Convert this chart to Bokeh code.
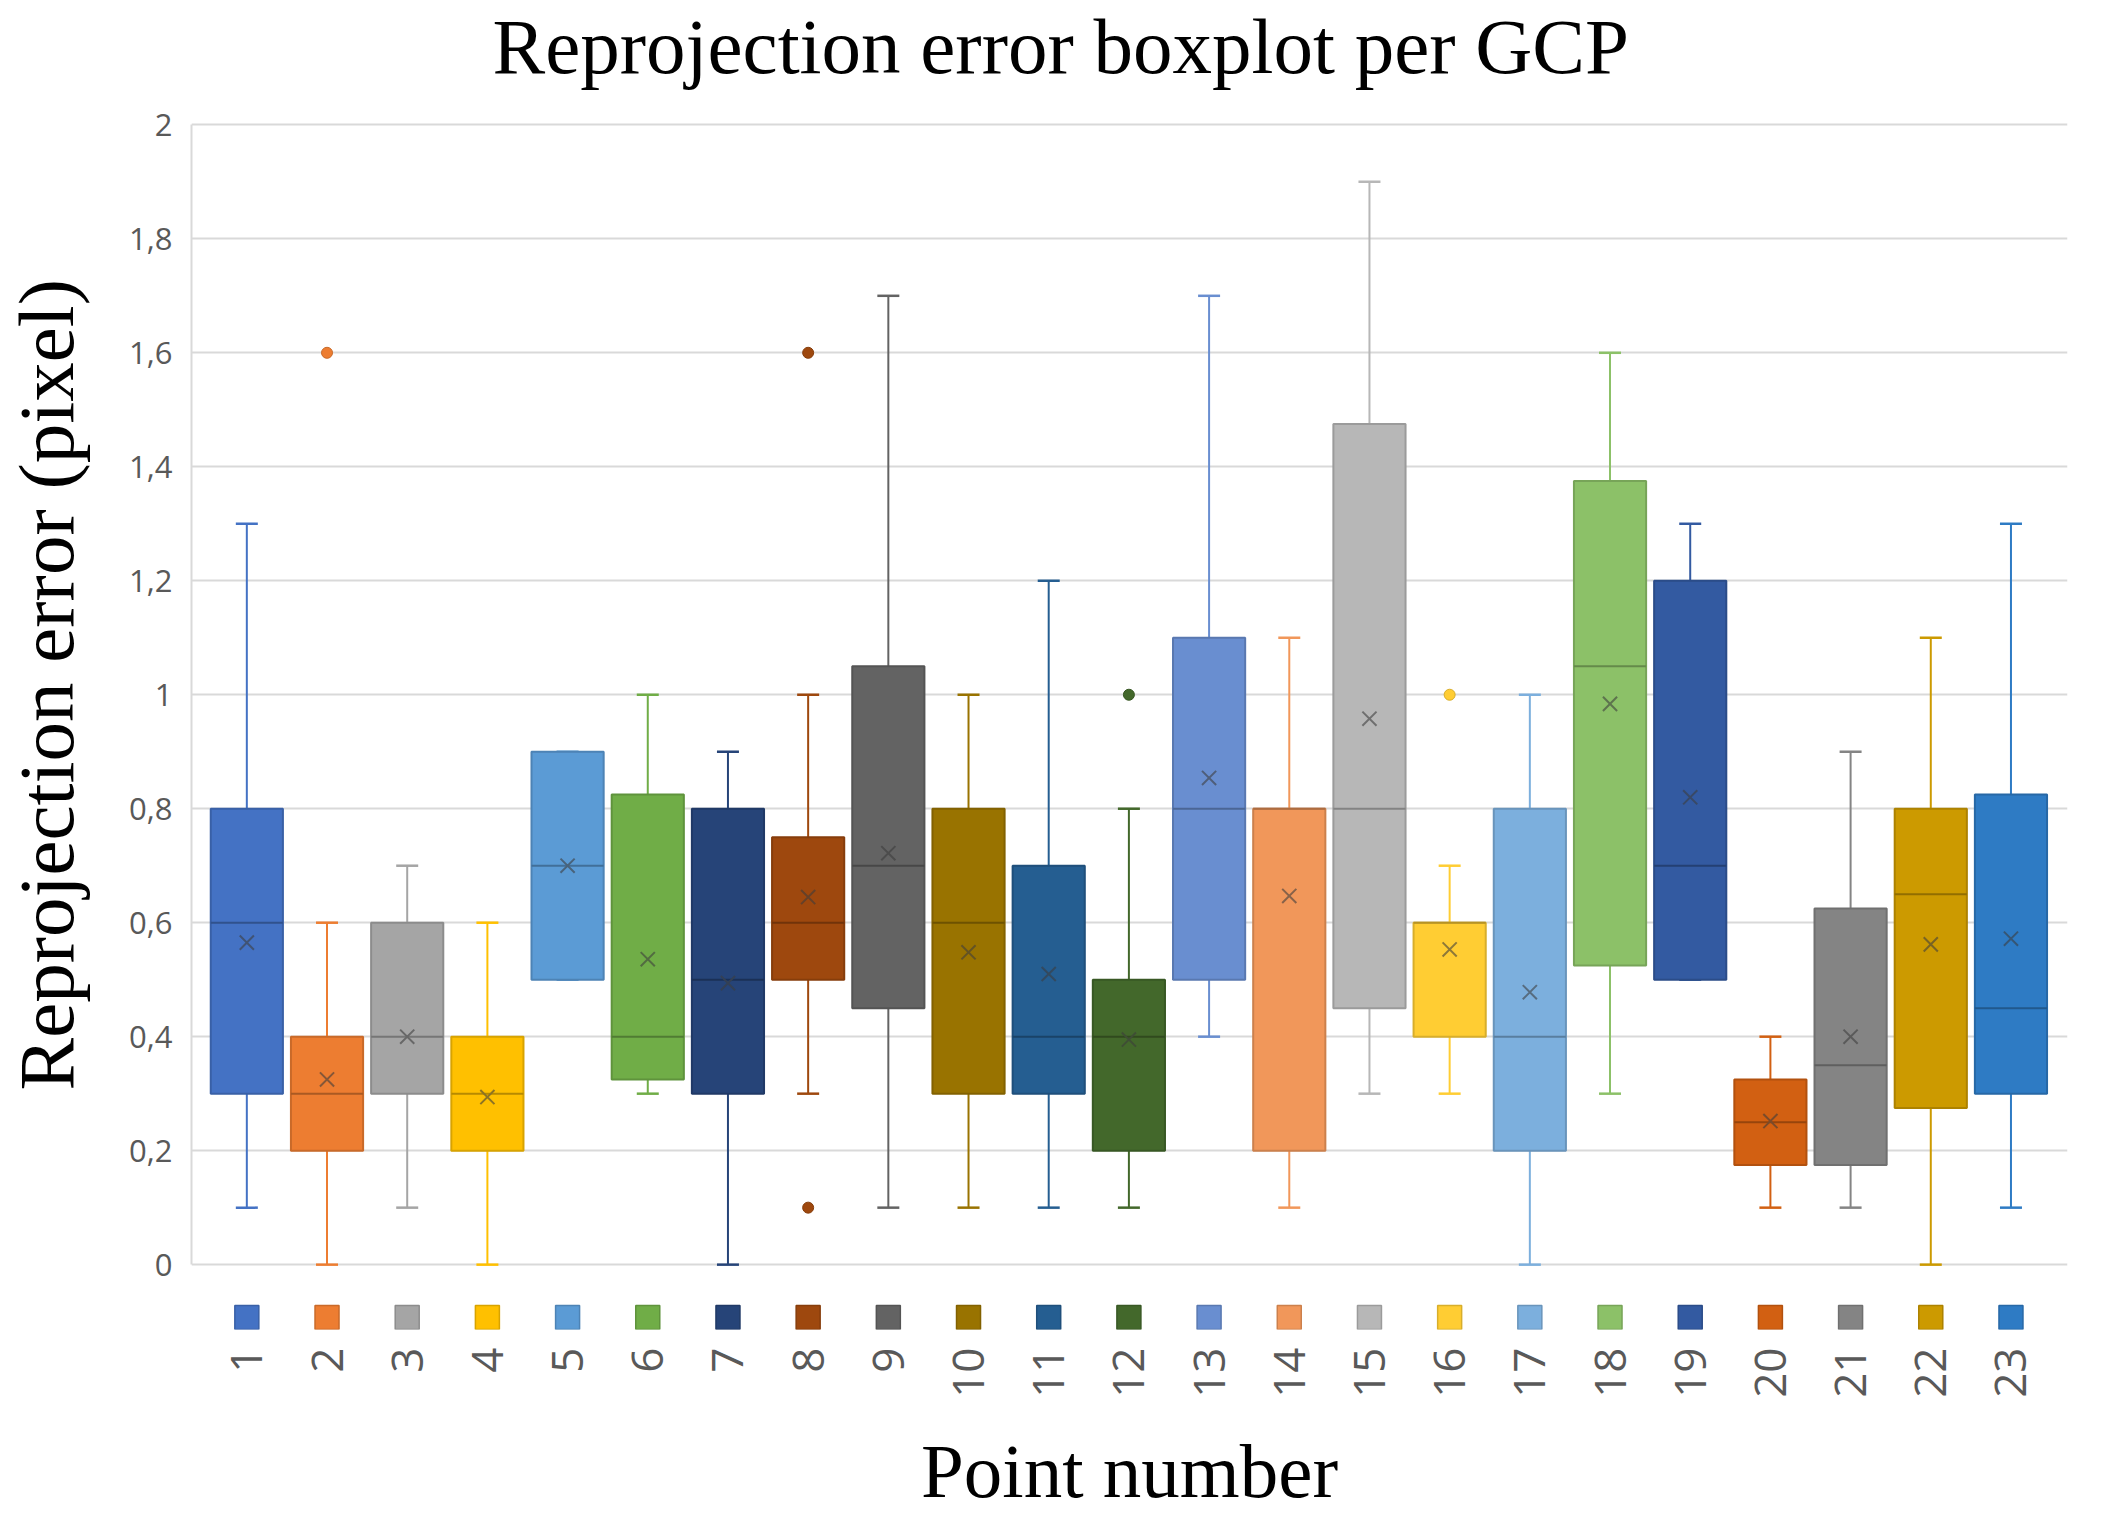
import math
from bokeh.plotting import figure
from bokeh.models import FixedTicker, CustomJSTickFormatter, Range1d
from bokeh.core.properties import value
from bokeh.embed import file_html
from bokeh.resources import INLINE

# ---------------- data ----------------
points = [str(i) for i in range(1, 24)]
x_pos = list(range(1, 24))
whisker_low = [0.1, 0.0, 0.1, 0.0, 0.5, 0.3, 0.0, 0.3, 0.1, 0.1, 0.1, 0.1,
               0.4, 0.1, 0.3, 0.3, 0.0, 0.3, 0.5, 0.1, 0.1, 0.0, 0.1]
q1 = [0.3, 0.2, 0.3, 0.2, 0.5, 0.325, 0.3, 0.5, 0.45, 0.3, 0.3, 0.2,
      0.5, 0.2, 0.45, 0.4, 0.2, 0.525, 0.5, 0.175, 0.175, 0.275, 0.3]
median = [0.6, 0.3, 0.4, 0.3, 0.7, 0.4, 0.5, 0.6, 0.7, 0.6, 0.4, 0.4,
          0.8, 0.8, 0.8, 0.6, 0.4, 1.05, 0.7, 0.25, 0.35, 0.65, 0.45]
q3 = [0.8, 0.4, 0.6, 0.4, 0.9, 0.825, 0.8, 0.75, 1.05, 0.8, 0.7, 0.5,
      1.1, 0.8, 1.475, 0.6, 0.8, 1.375, 1.2, 0.325, 0.625, 0.8, 0.825]
whisker_high = [1.3, 0.6, 0.7, 0.6, 0.9, 1.0, 0.9, 1.0, 1.7, 1.0, 1.2, 0.8,
                1.7, 1.1, 1.9, 0.7, 1.0, 1.6, 1.3, 0.4, 0.9, 1.1, 1.3]
mean = [0.565, 0.325, 0.4, 0.294, 0.7, 0.536, 0.494, 0.645, 0.722, 0.548, 0.51, 0.395,
        0.854, 0.647, 0.958, 0.553, 0.478, 0.984, 0.82, 0.252, 0.4, 0.562, 0.572]
outlier_point = [2, 8, 8, 12, 16]
outlier_value = [1.6, 1.6, 0.1, 1.0, 1.0]
y_ticks = [0, 0.2, 0.4, 0.6, 0.8, 1.0, 1.2, 1.4, 1.6, 1.8, 2.0]
colors = ["#4472C4", "#ED7D31", "#A5A5A5", "#FFC000", "#5B9BD5", "#70AD47",
          "#264478", "#9E480E", "#636363", "#997300", "#255E91", "#43682B",
          "#698ED0", "#F1975A", "#B7B7B7", "#FFCD33", "#7CAFDD", "#8CC168",
          "#335AA1", "#D26012", "#848484", "#CC9A00", "#2E7BC4"]
title_text = "Reprojection error boxplot per GCP"
y_title = "Reprojection error (pixel)"
x_title = "Point number"


def shade(c, f, mix=None, w=0.0):
    r, g, b = int(c[1:3], 16), int(c[3:5], 16), int(c[5:7], 16)
    r, g, b = r * f, g * f, b * f
    if mix is not None:
        mr, mg, mb = int(mix[1:3], 16), int(mix[3:5], 16), int(mix[5:7], 16)
        r, g, b = r * (1 - w) + mr * w, g * (1 - w) + mg * w, b * (1 - w) + mb * w
    return "#%02x%02x%02x" % (int(r), int(g), int(b))


outline_colors = [shade(c, 0.85) for c in colors]
median_colors = [shade(c, 0.72) for c in colors]
mean_colors = [shade(c, 0.75, "#505050", 0.45) for c in colors]
out_colors = [colors[p - 1] for p in outlier_point]
out_line = [outline_colors[p - 1] for p in outlier_point]

# layout constants (positions of non-data decorations)
BOX_W = 0.9
SERIF = "Liberation Serif"
SANS = "Open Sans"
TITLE_X, TITLE_Y = 11.15, 2.1377
LEGEND_Y = -0.0928

p = figure(width=2088, height=1516,
           x_range=Range1d(0.31, 23.705), y_range=Range1d(-0.1138, 2.21816),
           output_backend="svg", toolbar_location=None,
           min_border_left=188, min_border_right=21,
           min_border_top=0, min_border_bottom=182)
p.outline_line_color = None
p.background_fill_color = "white"

# ---- title (inside the frame, above the value 2 gridline)
p.text(x=[TITLE_X], y=[TITLE_Y], text=[title_text], text_align="center",
       text_baseline="middle", text_font=value(SERIF),
       text_font_size="79px", text_color="#000000")

# ---- y axis
p.yaxis.ticker = FixedTicker(ticks=y_ticks)
p.yaxis.formatter = CustomJSTickFormatter(
    code="return (Math.round(tick*10)/10).toString().replace('.', ',');")
p.yaxis.bounds = (0, 2)
p.yaxis.axis_line_color = "#D9D9D9"
p.yaxis.axis_line_width = 2
p.yaxis.major_tick_line_color = None
p.yaxis.minor_tick_line_color = None
p.yaxis.major_label_standoff = 13
p.yaxis.major_label_text_font = SANS
p.yaxis.major_label_text_font_size = "31px"
p.yaxis.major_label_text_color = "#595959"
p.yaxis.axis_label = y_title + "\u00a0\u00a0"
p.yaxis.axis_label_text_font = SERIF
p.yaxis.axis_label_text_font_size = "79px"
p.yaxis.axis_label_text_font_style = "normal"
p.yaxis.axis_label_text_color = "#000000"
p.yaxis.axis_label_standoff = 36

# ---- x axis (category labels + axis title)
p.xaxis.ticker = FixedTicker(ticks=x_pos)
p.xaxis.major_label_overrides = {x: s for x, s in zip(x_pos, points)}
p.xaxis.major_label_orientation = math.pi / 2
p.xaxis.axis_line_color = None
p.xaxis.major_tick_line_color = None
p.xaxis.minor_tick_line_color = None
p.xaxis.major_label_standoff = 12
p.xaxis.major_label_text_font = SANS
p.xaxis.major_label_text_font_size = "44px"
p.xaxis.major_label_text_color = "#595959"
p.xaxis.axis_label = x_title
p.xaxis.axis_label_text_font = SERIF
p.xaxis.axis_label_text_font_size = "77px"
p.xaxis.axis_label_text_font_style = "normal"
p.xaxis.axis_label_text_color = "#000000"
p.xaxis.axis_label_standoff = 27

# ---- grid
p.xgrid.visible = False
p.ygrid.ticker = FixedTicker(ticks=y_ticks)
p.ygrid.grid_line_color = "#D9D9D9"
p.ygrid.grid_line_width = 2

# ---- whiskers
p.segment(x0=x_pos, y0=q3, x1=x_pos, y1=whisker_high, line_color=colors, line_width=2)
p.segment(x0=x_pos, y0=q1, x1=x_pos, y1=whisker_low, line_color=colors, line_width=2)
p.scatter(x=x_pos, y=whisker_high, marker="dash", size=22, line_color=colors, line_width=2.5)
p.scatter(x=x_pos, y=whisker_low, marker="dash", size=22, line_color=colors, line_width=2.5)

# ---- boxes + medians
p.vbar(x=x_pos, bottom=q1, top=q3, width=BOX_W, fill_color=colors,
       line_color=outline_colors, line_width=2)
p.segment(x0=[x - BOX_W / 2 for x in x_pos], y0=median,
          x1=[x + BOX_W / 2 for x in x_pos], y1=median,
          line_color=median_colors, line_width=2)

# ---- means
p.scatter(x=x_pos, y=mean, marker="x", size=20, line_color=mean_colors, line_width=2)

# ---- outliers
p.scatter(x=outlier_point, y=outlier_value, marker="circle", size=11,
          fill_color=out_colors, line_color=out_line, line_width=1)

# ---- legend keys under each category
p.scatter(x=x_pos, y=[LEGEND_Y] * len(x_pos), marker="square", size=24,
          fill_color=colors, line_color=outline_colors, line_width=1.5)

open("out.html", "w").write(file_html(p, INLINE))
